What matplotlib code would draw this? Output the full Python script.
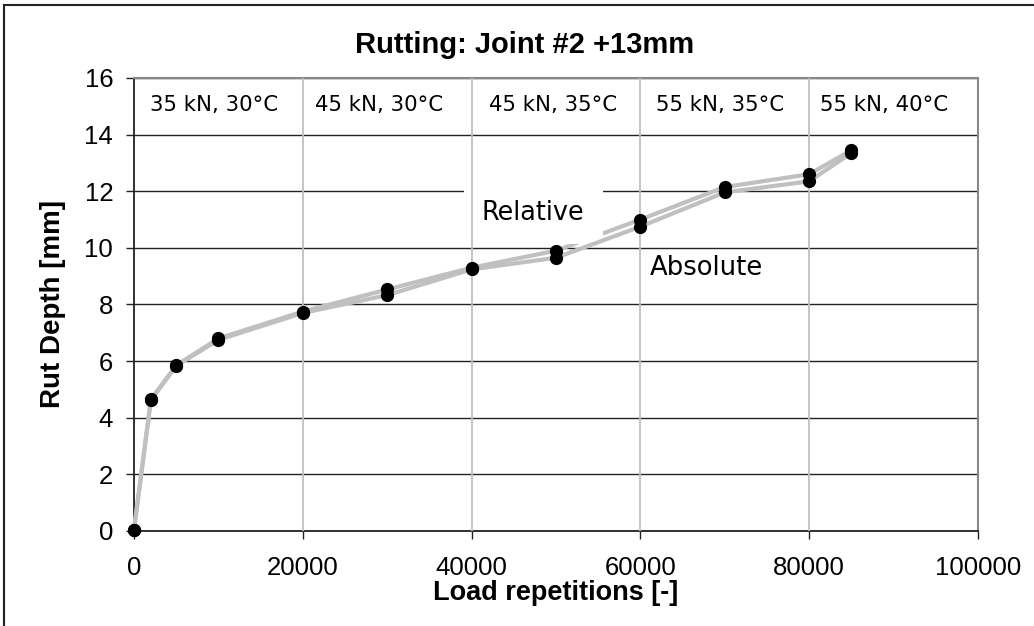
import matplotlib
matplotlib.use('Agg')
import matplotlib.pyplot as plt
from matplotlib.patches import Rectangle

# load repetitions and rut depth [mm]
reps = [0, 2000, 5000, 10000, 20000, 30000, 40000, 50000, 60000, 70000, 80000, 85000]
relative = [0.05, 4.65, 5.85, 6.8, 7.75, 8.53, 9.3, 9.9, 11.0, 12.15, 12.6, 13.45]
absolute = [0.05, 4.62, 5.83, 6.75, 7.7, 8.33, 9.24, 9.65, 10.75, 11.96, 12.35, 13.35]

stages = ['35 kN, 30°C', '45 kN, 30°C', '45 kN, 35°C', '55 kN, 35°C', '55 kN, 40°C']
stage_x = [1900, 21450, 42050, 61850, 81300]


def main():
    fig = plt.figure(figsize=(10.34, 6.26), dpi=100)
    ax = fig.add_axes([0.1296, 0.1518, 0.8162, 0.7236])

    # outer chart frame
    fig.patches.append(Rectangle((0.004, -0.1), 1.2, 1.092, transform=fig.transFigure,
                                 fill=False, edgecolor='#222222', lw=1.5))

    ax.plot(reps, relative, color='#c0c0c0', lw=3, zorder=3, clip_on=False)
    ax.plot(reps, absolute, color='#c0c0c0', lw=3, zorder=4, clip_on=False)
    for ys in (relative, absolute):
        ax.plot(reps, ys, 'o', color='black', ms=8.5, zorder=5, clip_on=False)

    ax.set_xlim(0, 100000)
    ax.set_ylim(0, 16)
    xt = list(range(0, 100001, 20000))
    ax.set_xticks(xt)
    ax.set_yticks(range(0, 17, 2))
    # vertical grid lines stay visible through the label box
    for x in xt[1:-1]:
        ax.axvline(x, color='#c0c0c0', lw=1.3, zorder=3.6)
    ax.grid(axis='y', color='#222222', lw=1)
    ax.set_axisbelow(True)
    for s in ('top', 'right'):
        ax.spines[s].set_color('#888888')
        ax.spines[s].set_linewidth(1.5)
    for s in ('left', 'bottom'):
        ax.spines[s].set_color('#222222')
        ax.spines[s].set_linewidth(1.3)
    ax.tick_params(direction='out', length=6, width=1, color='#222222',
                   labelsize=18.5)
    ax.tick_params(axis='x', pad=12)
    ax.tick_params(axis='y', pad=9)
    for lab in ax.get_xticklabels() + ax.get_yticklabels():
        lab.set_family('Liberation Sans')

    for x, t in zip(stage_x, stages):
        ax.text(x, 15.05, t, ha='left', va='center', fontsize=15.3, family='DejaVu Sans')

    box = dict(facecolor='white', edgecolor='none', pad=13)
    ax.text(41230, 11.23, 'Relative', ha='left', va='center', fontsize=18.4,
            family='DejaVu Sans', bbox=box, zorder=3.5)
    ax.text(61140, 9.29, 'Absolute', ha='left', va='center', fontsize=18.6,
            family='DejaVu Sans', zorder=3.5)

    fig.text(525 / 1034, 1 - 45 / 626, 'Rutting: Joint #2 +13mm', ha='center', va='center',
             fontsize=21, fontweight='bold', family='Liberation Sans')
    ax.set_xlabel('Load repetitions [-]', fontsize=19.5, fontweight='bold',
                  family='Liberation Sans', va='center')
    ax.xaxis.set_label_coords(0.5, (531 - 593) / 453)
    ax.set_ylabel('Rut Depth [mm]', fontsize=20, fontweight='bold',
                  family='Liberation Sans', va='center')
    ax.yaxis.set_label_coords((53 - 134) / 844, 0.5)

    fig.savefig('out.png', dpi=100)


if __name__ == '__main__':
    main()
